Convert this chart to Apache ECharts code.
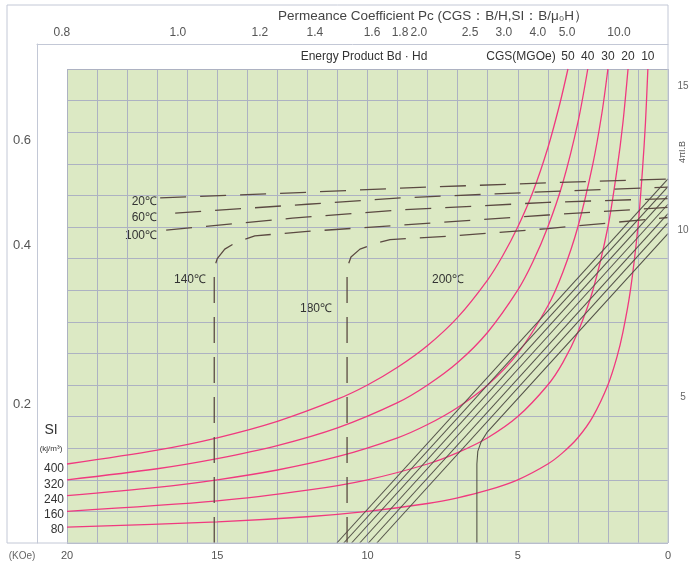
<!DOCTYPE html>
<html lang="en">
<head>
<meta charset="utf-8" />
<title>Demagnetization curves</title>
<script src="https://cdn.jsdelivr.net/npm/echarts@6/dist/echarts.min.js"></script>
<style>
html, body { margin: 0; padding: 0; background: #fff; }
#main { width: 698px; height: 563px; }
</style>
</head>
<body>
<div id="main"></div>
<script>
// all curves as [H (KOe), B (KG)]
// energy product lines, MGOe
var bh50 = [[20,2.5],[17,2.94],[15,3.33],[13,3.85],[11,4.55],[10,5.0],[9,5.56],[8,6.25],[7,7.14],[6,8.33],[5.5,9.09],[5,10.0],[4.5,11.1],[4,12.5],[3.6,13.9],[3.33,15]];
var bh40 = [[20,2.0],[17,2.35],[15,2.67],[13,3.08],[11,3.64],[9,4.44],[8,5.0],[7,5.71],[6,6.67],[5,8.0],[4.5,8.89],[4,10.0],[3.5,11.4],[3,13.3],[2.67,15]];
var bh30 = [[20,1.5],[17,1.76],[15,2.0],[13,2.31],[11,2.73],[9,3.33],[8,3.75],[7,4.29],[6,5.0],[5,6.0],[4,7.5],[3.5,8.57],[3,10.0],[2.5,12.0],[2.2,13.6],[2,15]];
var bh20 = [[20,1.0],[15,1.33],[12,1.67],[10,2.0],[8,2.5],[7,2.86],[6,3.33],[5,4.0],[4,5.0],[3.5,5.71],[3,6.67],[2.5,8.0],[2,10.0],[1.7,11.8],[1.5,13.3],[1.33,15]];
var bh10 = [[20,0.5],[15,0.67],[12,0.83],[10,1.0],[8,1.25],[7,1.43],[6,1.67],[5,2.0],[4,2.5],[3.5,2.86],[3,3.33],[2.5,4.0],[2,5.0],[1.7,5.88],[1.5,6.67],[1.25,8.0],[1,10.0],[0.85,11.8],[0.75,13.3],[0.67,15]];

// normal B-H lines
var norm1 = [[0,11.52],[11.02,0]];
var norm2 = [[0,11.28],[10.79,0]];
var norm3 = [[0,11.0],[10.53,0]];
var norm4 = [[0,10.72],[10.26,0]];
var norm5 = [[0,10.42],[9.97,0]];
var norm6 = [[0,10.13],[9.69,0]];
var norm7 = [[0,9.79],[6.03,3.49],[6.22,3.2],[6.33,2.9],[6.36,2.5],[6.36,0]];

// intrinsic curves (dashed)
var int20 = [[16.9,10.92],[12,11.1],[8.9,11.23],[4,11.4],[0,11.52]];
var int60 = [[16.4,10.44],[12,10.72],[8.9,10.92],[4,11.12],[0,11.26]];
var int100 = [[16.7,9.9],[12.5,10.28],[8.9,10.54],[4,10.78],[0,10.9]];
var int140 = [[15.1,0],[15.1,8.7],[15.0,9.0],[14.75,9.3],[14.35,9.53],[13.75,9.72],[12,9.86],[8.9,10.06],[4,10.38],[0,10.62]];
var int180 = [[10.68,0],[10.68,8.7],[10.55,9.05],[10.25,9.3],[9.7,9.49],[9.25,9.6],[7.1,9.72],[4,9.95],[0,10.3]];

// tick labels
var pcValues = [20.17,16.31,13.58,11.75,9.85,8.92,8.29,6.59,5.46,4.33,3.36,1.63];
var pcLabels = ['0.8','1.0','1.2','1.4','1.6','1.8','2.0','2.5','3.0','4.0','5.0','10.0'];
var bhTopValues = [3.33,2.67,2.0,1.33,0.67];
var bhTopLabels = ['50','40','30','20','10'];
var leftValues = [4.4,9.43,12.75];
var leftLabels = ['0.2','0.4','0.6'];
var rightValues = [4.62,9.9,14.46];
var rightLabels = ['5','10','15'];
var siValues = [2.34,1.84,1.36,0.89,0.41];
var siLabels = ['400','320','240','160','80'];

var FONT = 'Liberation Sans, Arial, sans-serif';

function pick(vals, labels) {
	return function (v) {
		for (var i = 0; i < vals.length; i++) {
			if (Math.abs(v - vals[i]) < 1e-6) return labels[i];
		}
		return '';
	};
}

function pinkLine(data) {
	return { type: 'line', data: data, showSymbol: false, smooth: 0.3, silent: true,
		lineStyle: { color: '#f0397f', width: 1.3 }, z: 3 };
}
function normLine(data) {
	return { type: 'line', data: data, showSymbol: false, silent: true,
		lineStyle: { color: '#55544a', width: 1.1 }, z: 4 };
}
function dashLine(data) {
	return { type: 'line', data: data, showSymbol: false, silent: true,
		lineStyle: { color: '#5b4a42', width: 1.3, type: [26, 14] }, z: 4 };
}

function text(x, y, s, size, align, color) {
	return { type: 'text', x: x, y: y, silent: true,
		style: { text: s, fontSize: size, fontFamily: FONT, fill: color || '#333',
			align: align || 'center', verticalAlign: 'middle' } };
}

var chart = echarts.init(document.getElementById('main'));

var hiddenY = { show: true, axisLine: { show: false }, axisTick: { show: false }, splitLine: { show: false } };
var frameColor = '#c3c8d6';

var option = {
	backgroundColor: '#fff',
	animation: false,
	grid: [
		{ left: 67, right: 30, top: 69, bottom: 20, show: true, backgroundColor: '#dce9c4', borderWidth: 0 },
		{ left: 37, right: 30, top: 44, bottom: 20 }
	],
	xAxis: [
		{ type: 'value', gridIndex: 0, min: 0, max: 20, interval: 1, inverse: true, position: 'bottom',
			axisLine: { show: false }, axisTick: { show: false },
			splitLine: { show: true, lineStyle: { color: '#adb2c2', width: 1 } },
			axisLabel: { margin: 7, fontSize: 11, fontFamily: FONT, color: '#555',
				formatter: function (v) { return v % 5 === 0 ? String(v) : ''; } } },
		{ type: 'value', gridIndex: 1, min: 0, max: 21, inverse: true, position: 'top',
			axisLine: { show: true, onZero: false, lineStyle: { color: frameColor } }, axisTick: { show: false },
			splitLine: { show: false },
			axisLabel: { customValues: pcValues, formatter: pick(pcValues, pcLabels),
				margin: 5, fontSize: 12, fontFamily: FONT, color: '#555' } },
		{ type: 'value', gridIndex: 0, min: 0, max: 20, inverse: true, position: 'top',
			axisLine: { show: false }, axisTick: { show: false }, splitLine: { show: false },
			axisLabel: { customValues: bhTopValues, formatter: pick(bhTopValues, bhTopLabels),
				margin: 6, fontSize: 12, fontFamily: FONT, color: '#333' } }
	],
	yAxis: [
		{ type: 'value', gridIndex: 0, min: 0, max: 15, interval: 1,
			axisLine: { show: false }, axisTick: { show: false },
			splitLine: { show: true, lineStyle: { color: '#adb2c2', width: 1 } },
			axisLabel: { show: false } },
		Object.assign({ type: 'value', gridIndex: 0, min: 0, max: 15, position: 'right',
			axisLabel: { customValues: rightValues, formatter: pick(rightValues, rightLabels),
				align: 'center', margin: 15, fontSize: 10, fontFamily: FONT, color: '#666' } }, hiddenY),
		Object.assign({ type: 'value', gridIndex: 0, min: 0, max: 15, position: 'left',
			axisLabel: { customValues: leftValues, formatter: pick(leftValues, leftLabels),
				align: 'center', margin: 45, fontSize: 13, fontFamily: FONT, color: '#555' } }, hiddenY),
		Object.assign({ type: 'value', gridIndex: 0, min: 0, max: 15, position: 'left',
			axisLabel: { customValues: siValues, formatter: pick(siValues, siLabels),
				margin: 3, fontSize: 12, fontFamily: FONT, color: '#333' } }, hiddenY),
		{ type: 'value', gridIndex: 1, min: 0, max: 1, position: 'left',
			axisLine: { show: true, onZero: false, lineStyle: { color: frameColor } },
			axisTick: { show: false }, splitLine: { show: false }, axisLabel: { show: false } }
	],
	series: [
		pinkLine(bh50), pinkLine(bh40), pinkLine(bh30), pinkLine(bh20), pinkLine(bh10),
		normLine(norm1), normLine(norm2), normLine(norm3), normLine(norm4),
		normLine(norm5), normLine(norm6), normLine(norm7),
		dashLine(int20), dashLine(int60), dashLine(int100), dashLine(int140), dashLine(int180)
	],
	graphic: [
		{ type: 'rect', silent: true, z: 10, shape: { x: 7, y: 5, width: 661, height: 538 },
			style: { fill: 'none', stroke: frameColor, lineWidth: 1 } },
		text(433, 16, 'Permeance Coefficient Pc (CGS：B/H,SI：B/μ₀H）', 13.5, 'center', '#444'),
		text(364, 57, 'Energy Product Bd · Hd', 12, 'center', '#333'),
		text(521, 57, 'CGS(MGOe)', 12, 'center', '#333'),
		text(22, 556, '(KOe)', 10, 'center', '#666'),
		{ type: 'text', x: 683, y: 152, rotation: Math.PI / 2, silent: true,
			style: { text: '4πI.B', fontSize: 9, fontFamily: FONT, fill: '#555', align: 'center', verticalAlign: 'middle' } },
		text(157, 202, '20℃', 12, 'right'),
		text(157, 218, '60℃', 12, 'right'),
		text(157, 236, '100℃', 12, 'right'),
		text(190, 280, '140℃', 12, 'center'),
		text(316, 309, '180℃', 12, 'center'),
		text(448, 280, '200℃', 12, 'center'),
		text(51, 430, 'SI', 14, 'center', '#333'),
		text(51, 449, '(kj/m³)', 8, 'center', '#333')
	]
};

chart.setOption(option);
</script>
</body>
</html>
